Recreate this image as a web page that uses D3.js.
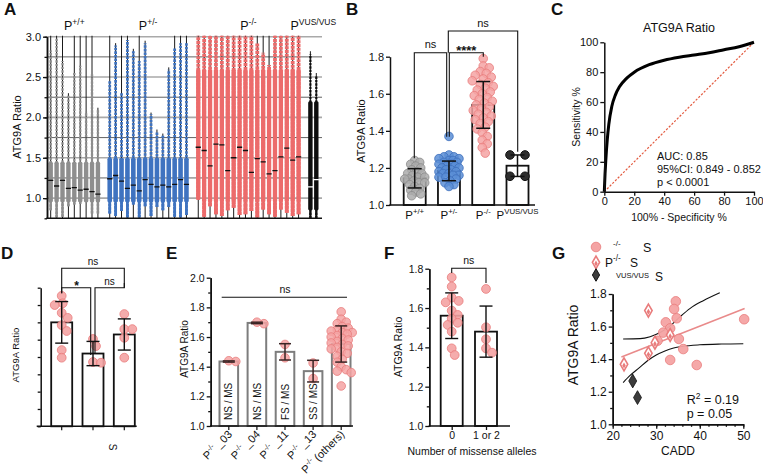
<!DOCTYPE html>
<html>
<head>
<meta charset="utf-8">
<script src="https://cdn.jsdelivr.net/npm/d3@7/dist/d3.min.js"></script>
<style>
  html,body{margin:0;padding:0;background:#fff;}
  svg{display:block;}
  text{font-family:"Liberation Sans", Arial, Helvetica, sans-serif; fill:#111;}
</style>
</head>
<body>
<svg id="fig" width="763" height="475"></svg>
<script>
// ======================= DATA =======================
// ---- Panel A : per-individual distributions ----
const aTicks = [1.0, 1.5, 2.0, 2.5, 3.0];
const aGrayMed   = [1.22, 1.15, 1.22, 1.12, 1.13, 1.10, 1.11, 1.08, 1.05];
const aGrayMax   = [2.83, 2.98, 2.70, 2.28, 2.55, 2.64, 2.07, 2.54, 2.10];
const aGrayMin   = [0.85, 0.76, 0.77, 0.90, 0.92, 0.93, 0.95, 0.81, 0.81];
const aGrayWhisk = [3.1, 3.1, 3.1, 2.30, 3.1, 3.1, 3.1, 3.1, 2.12];
const aGrayCore  = [0.95, 1.45];

const aBlueMed   = [1.24, 1.28, 1.21, 1.12, 1.16, 1.09, 1.23, 1.17, 1.14, 1.16, 1.14, 1.17, 1.23, 1.17];
const aBlueMax   = [2.45, 2.89, 2.30, 2.96, 2.82, 2.70, 2.92, 2.04, 1.82, 1.78, 2.59, 2.86, 2.92, 2.92];
const aBlueMin   = [0.81, 0.78, 0.84, 0.76, 0.92, 0.76, 0.90, 0.78, 0.89, 0.85, 0.89, 0.77, 0.76, 0.79];
const aBlueWhisk = [3.1, 2.92, 3.1, 3.1, 2.85, 3.1, 2.95, 2.06, 1.85, 1.80, 2.62, 3.1, 3.1, 3.1];
const aBlueCore  = [0.95, 1.5];

const aRedMed   = [1.63, 1.59, 1.40, 1.67, 1.66, 1.34, 1.50, 1.63, 1.59, 1.32, 1.49, 1.45, 1.30, 1.34, 1.51, 1.62, 1.47, 1.51];
const aRedMax   = [3.1, 3.1, 3.1, 3.1, 3.1, 3.1, 3.1, 3.1, 3.1, 3.1, 2.92, 2.80, 2.65, 3.1, 3.1, 3.1, 3.1, 3.1];
const aRedMin   = [0.98, 0.77, 0.90, 0.80, 0.78, 0.85, 0.88, 0.79, 0.80, 0.84, 0.76, 0.86, 0.80, 0.77, 0.86, 0.82, 0.78, 0.80];
const aRedWhisk = [3.1, 3.1, 3.1, 3.1, 3.1, 3.1, 3.1, 3.1, 3.1, 3.1, 3.1, 3.1, 3.1, 3.1, 3.1, 3.1, 3.1, 3.1];
const aRedCore  = [0.95, 2.6];

const aVusMed   = [1.14, 1.23];
const aVusMax   = [2.78, 2.51];
const aVusMin   = [0.75, 0.75];
const aVusWhisk = [2.82, 2.55];
const aVusCore  = [0.85, 2.2];

// ---- Panel B ----
const bCats  = ["+/+", "+/-", "-/-", "VUS/VUS"];
const bMeans = [1.144, 1.184, 1.540, 1.212];
const bSDs   = [0.052, 0.053, 0.126, 0.058];
const bWT  = [1.24,1.23,1.22,1.21,1.20,1.19,1.18,1.17,1.17,1.16,1.15,1.15,1.14,1.14,1.13,1.12,1.12,1.11,1.10,1.09,1.08,1.07,1.06,1.05];
const bHet = [1.37,1.27,1.26,1.26,1.25,1.25,1.24,1.24,1.23,1.23,1.22,1.22,1.21,1.21,1.20,1.20,1.19,1.19,1.18,1.18,1.17,1.17,1.16,1.16,1.15,1.15,1.14,1.13,1.12,1.11,1.10];
const bHom = [1.79,1.75,1.74,1.72,1.71,1.70,1.69,1.68,1.67,1.66,1.65,1.64,1.63,1.62,1.61,1.60,1.59,1.58,1.57,1.56,1.55,1.54,1.53,1.52,1.51,1.50,1.49,1.48,1.47,1.46,1.45,1.44,1.42,1.41,1.39,1.37,1.35,1.33,1.31,1.28];
const bVus = [1.27, 1.27, 1.155, 1.155];

// ---- Panel C : ROC ----
const cFPR = [0, 0.5, 1, 2, 3, 5, 7.5, 10, 15, 20, 30, 40, 50, 60, 70, 80, 90, 100];
const cTPR = [0, 12, 21, 35, 45, 57, 65, 70, 76, 80, 85, 88, 90, 91.5, 93, 95, 97, 100];
const cTicks = [0, 20, 40, 60, 80, 100];
const cStats = ["AUC: 0.85", "95%CI: 0.849 - 0.852", "p < 0.0001"];

// ---- Panel D ----
const dMeans = [1.60, 1.42, 1.53];
const dSDs   = [0.12, 0.07, 0.09];
const dPts   = [[1.753,1.71,1.70,1.655,1.626,1.584,1.55,1.44,1.396],[1.504,1.463,1.371,1.367],[1.648,1.561,1.561,1.511,1.396]];

// ---- Panel E ----
const eCats   = [" _03", " _04", " _11", " _13", " (others)"];
const eInner  = ["NS / MS", "NS / MS", "FS / MS", "SS / MS", ""];
const eMeans  = [1.435, 1.695, 1.50, 1.37, 1.553];
const eSDs    = [0.004, 0.005, 0.055, 0.073, 0.122];
const ePts    = [[1.44,1.435],[1.69,1.70],[1.55,1.46],[1.425,1.32],
  [1.77,1.72,1.70,1.69,1.67,1.66,1.65,1.64,1.63,1.63,1.62,1.61,1.60,1.59,1.58,1.57,1.56,1.55,1.54,1.53,1.52,1.50,1.49,1.47,1.45,1.43,1.40,1.38,1.37,1.36,1.27]];

// ---- Panel F ----
const fCats  = ["0", "1 or 2"];
const fMeans = [1.561, 1.48];
const fSDs   = [0.116, 0.13];
const fPts   = [[1.756,1.709,1.653,1.636,1.629,1.587,1.565,1.546,1.525,1.514,1.48,1.395,1.361],[1.697,1.502,1.441,1.395,1.373]];

// ---- Panel G ----
const gCircX = [34.5, 34.1, 34.7, 32.2, 33.2, 31.6, 35.2, 30.3, 36.2, 33.2, 39.3, 50.2];
const gCircY = [1.755, 1.708, 1.651, 1.626, 1.589, 1.563, 1.524, 1.513, 1.462, 1.395, 1.364, 1.645];
const gDiamX = [22.6, 28.2, 28.2, 29.7, 33.2];
const gDiamY = [1.368, 1.436, 1.698, 1.501, 1.548];
const gVusX  = [24.6, 25.7];
const gVusY  = [1.266, 1.164];
const gRegX  = [22.0, 50.3];
const gRegY  = [1.413, 1.711];
const gUpX   = [22.4, 26.3, 28.6, 30.9, 33.2, 35.5, 37.8, 40.8, 44.6];
const gUpY   = [1.524, 1.526, 1.538, 1.563, 1.604, 1.661, 1.712, 1.759, 1.808];
const gLoX   = [22.4, 24.0, 26.0, 28.0, 30.0, 32.0, 34.0, 36.0, 40.0, 45.0, 50.0];
const gLoY   = [1.256, 1.30, 1.345, 1.39, 1.425, 1.45, 1.468, 1.478, 1.488, 1.493, 1.495];

// ======================= HELPERS =======================
const svg = d3.select("#fig");
const PINK_F = "#f4a3a3", PINK_S = "#e97c7c";

function styleAxis(g, fs){
  g.select(".domain").attr("stroke","#111").attr("stroke-width",1.5);
  g.selectAll(".tick line").attr("stroke","#111").attr("stroke-width",1.3);
  g.selectAll(".tick text").attr("font-size",fs).attr("fill","#111")
    .style("font-family",'"Liberation Sans", Arial, sans-serif');
  return g;
}
function yAxis(x, y, major, minor, fs, fmt, tick){
  if(minor && minor.length){
    styleAxis(svg.append("g").attr("transform",`translate(${x},0)`)
      .call(d3.axisLeft(y).tickValues(minor).tickSize(2.5).tickSizeOuter(0).tickFormat("")), fs);
  }
  styleAxis(svg.append("g").attr("transform",`translate(${x},0)`)
    .call(d3.axisLeft(y).tickValues(major).tickSize(tick||4).tickSizeOuter(0).tickPadding(2).tickFormat(fmt)), fs);
}
function yLabel(x, y, t, fs){
  svg.append("text").attr("transform",`translate(${x},${y}) rotate(-90)`)
    .attr("text-anchor","middle").attr("font-size",fs).text(t);
}
function letter(t, x, y){
  svg.append("text").attr("x",x).attr("y",y).attr("font-size",17).attr("font-weight","bold").text(t);
}
function supText(g, x, y, parts, fs, anchor, transform){
  const t = g.append("text").attr("font-size",fs).attr("text-anchor",anchor||"start");
  if(transform) t.attr("transform",transform); else t.attr("x",x).attr("y",y);
  let shift = 0;
  parts.forEach(([s,sup])=>{
    const target = sup ? -fs*0.42 : 0;
    t.append("tspan").attr("dy",target-shift).attr("font-size", sup?fs*0.68:fs).text(s);
    shift = target;
  });
  return t;
}
function swarm(vals, yS, minDist, maxOff){
  const idx = d3.range(vals.length).sort((a,b)=>d3.descending(vals[a],vals[b]));
  const placed = [], off = new Array(vals.length).fill(0);
  idx.forEach(i=>{
    const py = yS(vals[i]);
    let best = 0, bestD = -1;
    for(let k=0;k<=2*maxOff;k++){
      const o = k===0 ? 0 : (k%2 ? Math.ceil(k/2) : -Math.ceil(k/2));
      let md = Infinity;
      placed.forEach(p=>{ const d = Math.hypot(p[0]-o, p[1]-py); if(d<md) md=d; });
      if(md>=minDist){ best=o; bestD=md; break; }
      if(md>bestD){ bestD=md; best=o; }
    }
    off[i]=best; placed.push([best,py]);
  });
  return off;
}
function errBar(g, cx, y, m, sd, capW, color, sw){
  const c = color||"#111";
  g.append("line").attr("x1",cx).attr("x2",cx).attr("y1",y(m-sd)).attr("y2",y(m+sd)).attr("stroke",c).attr("stroke-width",sw||1.5);
  [m-sd, m+sd].forEach(v=>g.append("line").attr("x1",cx-capW/2).attr("x2",cx+capW/2).attr("y1",y(v)).attr("y2",y(v)).attr("stroke",c).attr("stroke-width",sw||1.5));
}
function bracket(g, x1, x2, yTop, y1end, y2end){
  g.append("path").attr("d",`M${x1},${y1end}V${yTop}H${x2}V${y2end}`)
    .attr("fill","none").attr("stroke","#111").attr("stroke-width",1.1);
}
function points(g, cx, vals, y, r, minDist, maxOff, fill, stroke, op){
  const off = swarm(vals, y, minDist, maxOff);
  g.selectAll(null).data(vals).enter().append("circle")
    .attr("cx",(d,i)=>cx+off[i]).attr("cy",d=>y(d)).attr("r",r)
    .attr("fill",fill).attr("fill-opacity",op==null?0.85:op).attr("stroke",stroke).attr("stroke-width",0.8);
}

// ======================= PANEL A =======================
letter("A", 4, 15);
const ay = d3.scaleLinear().domain([0.75, 3.0]).range([218.3, 36.7]);
const aSlot = d3.scalePoint().domain(d3.range(46)).range([50.7, 316.3]);
const aL = 47, aR = 322;
const gA = svg.append("g");
d3.range(1.0, 3.01, 0.25).forEach(v=>{
  const major = Math.abs(v*2 - Math.round(v*2)) < 1e-6;
  gA.append("line").attr("x1",aL).attr("x2",aR).attr("y1",ay(v)).attr("y2",ay(v))
    .attr("stroke", major ? "#a9a9a9" : "#3a3a3a").attr("stroke-width", major ? 1.6 : 0.8);
});
svg.append("clipPath").attr("id","clipA").append("rect").attr("x",aL).attr("y",ay(3.0)-1).attr("width",aR-aL).attr("height",ay(0.75)-ay(3.0)+1);
const gCols = svg.append("g").attr("clip-path","url(#clipA)");
const aGroups = [
  {start:0,  med:aGrayMed, max:aGrayMax, min:aGrayMin, wh:aGrayWhisk, core:aGrayCore, col:"#8e8e8e", sw:2.4, cw:4.4, mc:"#111", dash:"2.4,1.2"},
  {start:10, med:aBlueMed, max:aBlueMax, min:aBlueMin, wh:aBlueWhisk, core:aBlueCore, col:"#3f73c0", sw:2.8, cw:4.6, mc:"#111", dash:"2.6,1.0"},
  {start:25, med:aRedMed,  max:aRedMax,  min:aRedMin,  wh:aRedWhisk,  core:aRedCore,  col:"#ec6b6b", sw:3.8, cw:4.3, mc:"#111", dash:"3,0.8"},
  {start:44, med:aVusMed,  max:aVusMax,  min:aVusMin,  wh:aVusWhisk,  core:aVusCore,  col:"#0d0d0d", sw:2.2, cw:4.4, mc:"#fff", dash:"2.4,1.0"}
];
aGroups.forEach(G=>{
  G.med.forEach((m,i)=>{
    const x = aSlot(G.start+i);
    gCols.append("line").attr("x1",x).attr("x2",x).attr("y1",ay(0.75)).attr("y2",ay(G.wh[i]))
      .attr("stroke","#1a1a1a").attr("stroke-width",1);
    gCols.append("line").attr("x1",x).attr("x2",x).attr("y1",ay(G.min[i])).attr("y2",ay(G.max[i]))
      .attr("stroke",G.col).attr("stroke-width",G.sw).attr("stroke-dasharray",G.dash);
    const lo = Math.max(G.core[0], G.min[i]), hi = Math.min(G.core[1], G.max[i]);
    gCols.append("rect").attr("x",x-G.cw/2).attr("width",G.cw).attr("y",ay(hi)).attr("height",ay(lo)-ay(hi))
      .attr("rx",1.5).attr("fill",G.col);
    gCols.append("line").attr("x1",x).attr("x2",x).attr("y1",ay(G.min[i])).attr("y2",ay(lo))
      .attr("stroke",G.col).attr("stroke-width",G.sw);
    gCols.append("line").attr("x1",x-2.6).attr("x2",x+2.6).attr("y1",ay(m)).attr("y2",ay(m))
      .attr("stroke",G.mc).attr("stroke-width",1.3);
  });
});
yAxis(aL, ay, aTicks, d3.range(0.75,3.01,0.25), 11, d3.format(".1f"), 4);
svg.append("line").attr("x1",aL-0.7).attr("x2",aR).attr("y1",ay(0.75)).attr("y2",ay(0.75)).attr("stroke","#111").attr("stroke-width",1.5);
yLabel(21, 127, "ATG9A Ratio", 11);
[[0,8],[10,23],[25,42],[44,45]].forEach((r,k)=>{
  const cx = (aSlot(r[0])+aSlot(r[1]))/2;
  const lab = [["P","+/+"],["P","+/-"],["P","-/-"],["P","VUS/VUS"]][k];
  supText(svg, cx, 30, [[lab[0],false],[lab[1],true]], 12.5, "middle");
});

// ======================= PANEL B =======================
letter("B", 346, 15);
const by = d3.scaleLinear().domain([1.0, 1.8]).range([205, 56.7]);
const bx = d3.scalePoint().domain(bCats).range([414.7, 517.5]);
const gB = svg.append("g");
const bPts = [bWT, bHet, bHom, bVus];
const bFill = ["#ababab", "#5b8ed6", PINK_F, "#2e2e2e"];
const bStroke = ["#8a8a8a", "#3d6fbb", PINK_S, "#111"];
bCats.forEach((c,i)=>{
  const cx = bx(c);
  gB.append("rect").attr("x",cx-11).attr("width",22).attr("y",by(bMeans[i])).attr("height",by(1.0)-by(bMeans[i]))
    .attr("fill","#fff").attr("stroke","#111").attr("stroke-width",1.8);
});
bCats.forEach((c,i)=>{
  const cx = bx(c);
  if(i===3){
    const off = [-7.5, 7.5, -7.5, 7.5];
    bVus.forEach((v,j)=>gB.append("circle").attr("cx",cx+off[j]).attr("cy",by(v)).attr("r",4.3).attr("fill",bFill[3]).attr("stroke",bStroke[3]));
  } else {
    points(gB, cx, bPts[i], by, 4.3, i===2?6.2:5.2, i===2?12:10, bFill[i], bStroke[i], 0.85);
  }
  errBar(gB, cx, by, bMeans[i], bSDs[i], 14, "#111", 1.5);
});
yAxis(390, by, [1.0,1.2,1.4,1.6,1.8], [], 11, d3.format(".1f"), 4);
svg.append("line").attr("x1",389.3).attr("x2",535).attr("y1",by(1.0)).attr("y2",by(1.0)).attr("stroke","#111").attr("stroke-width",1.5);
yLabel(365, 131, "ATG9A Ratio", 11);
bCats.forEach(c=>supText(svg, bx(c), 219, [["P",false],[c,true]], 11.5, "middle"));
bracket(gB, 414.3, 446.7, 52.7, 158.3, 136.7);
bracket(gB, 449.3, 483.3, 52.7, 136.7, 56.7);
bracket(gB, 448.3, 517.7, 31, 52.7, 151.7);
gB.append("text").attr("x",430.5).attr("y",48).attr("text-anchor","middle").attr("font-size",11).text("ns");
gB.append("text").attr("x",466.3).attr("y",55).attr("text-anchor","middle").attr("font-size",13).attr("font-weight","bold").text("****");
gB.append("text").attr("x",483).attr("y",27).attr("text-anchor","middle").attr("font-size",11).text("ns");

// ======================= PANEL C =======================
letter("C", 551, 15);
const cx = d3.scaleLinear().domain([0,100]).range([604.3, 754]);
const cy = d3.scaleLinear().domain([0,100]).range([191.7, 42.3]);
const gC = svg.append("g");
gC.append("line").attr("x1",cx(0)).attr("y1",cy(0)).attr("x2",cx(100)).attr("y2",cy(100))
  .attr("stroke","#e35a3f").attr("stroke-width",1.2).attr("stroke-dasharray","2.2,1.6");
gC.append("path").datum(d3.zip(cFPR, cTPR))
  .attr("d", d3.line().x(d=>cx(d[0])).y(d=>cy(d[1])).curve(d3.curveMonotoneX))
  .attr("fill","none").attr("stroke","#000").attr("stroke-width",3);
yAxis(cx(0), cy, cTicks, [], 11, d3.format("d"), 4);
styleAxis(svg.append("g").attr("transform",`translate(0,${cy(0)})`)
  .call(d3.axisBottom(cx).tickValues(cTicks).tickSize(4).tickSizeOuter(0).tickPadding(2).tickFormat(d3.format("d"))), 11);
svg.append("text").attr("x",679).attr("y",32).attr("text-anchor","middle").attr("font-size",12.5).text("ATG9A Ratio");
svg.append("text").attr("x",679).attr("y",221).attr("text-anchor","middle").attr("font-size",10.5).text("100% - Specificity %");
yLabel(580, 117, "Sensitivity %", 10.5);
cStats.forEach((s,i)=>svg.append("text").attr("x",657).attr("y",160+i*13).attr("font-size",11).text(s));

// ======================= PANEL D =======================
letter("D", 1, 259);
const dy = d3.scaleLinear().domain([1.0, 1.8]).range([426.3, 287.7]);
const dx = d3.scalePoint().domain([0,1,2]).range([61.7, 124.3]);
const gD = svg.append("g");
dMeans.forEach((m,i)=>{
  gD.append("rect").attr("x",dx(i)-10.5).attr("width",21).attr("y",dy(m)).attr("height",dy(1.0)-dy(m))
    .attr("fill","#fff").attr("stroke","#111").attr("stroke-width",1.8);
});
dMeans.forEach((m,i)=>{
  points(gD, dx(i), dPts[i], dy, 4.4, 7.5, 8, PINK_F, PINK_S, 0.9);
  errBar(gD, dx(i), dy, m, dSDs[i], 13, "#111", 1.4);
});
yAxis(40.7, dy, d3.range(1.0,1.801,0.1), [], 10, ()=>"", 3);
svg.append("line").attr("x1",36.7).attr("x2",136.7).attr("y1",dy(1.0)).attr("y2",dy(1.0)).attr("stroke","#111").attr("stroke-width",1.5);
[0,1,2].forEach(i=>svg.append("line").attr("x1",dx(i)).attr("x2",dx(i)).attr("y1",dy(1.0)).attr("y2",dy(1.0)+4).attr("stroke","#111").attr("stroke-width",1.2));
yLabel(19, 355, "ATG9A Ratio", 9.5);
svg.append("text").attr("transform","translate(109,447) rotate(90)").attr("font-size",10).attr("text-anchor","middle").text("S");
bracket(gD, 61.7, 124.3, 268.3, 293.3, 287.7);
bracket(gD, 61.7, 90.7, 287.7, 293.3, 355);
bracket(gD, 95, 124.3, 287.7, 353, 283);
gD.append("text").attr("x",93).attr("y",265).attr("text-anchor","middle").attr("font-size",10).text("ns");
gD.append("text").attr("x",76.5).attr("y",290).attr("text-anchor","middle").attr("font-size",12).attr("font-weight","bold").text("*");
gD.append("text").attr("x",109.5).attr("y",284.5).attr("text-anchor","middle").attr("font-size",10).text("ns");

// ======================= PANEL E =======================
letter("E", 166, 259);
const ey = d3.scaleLinear().domain([1.0, 2.0]).range([426, 277.7]);
const ex = d3.scalePoint().domain(d3.range(eCats.length)).range([228.8, 341.2]);
const gE = svg.append("g");
eMeans.forEach((m,i)=>{
  gE.append("rect").attr("x",ex(i)-9.3).attr("width",18.6).attr("y",ey(m)).attr("height",ey(1.0)-ey(m))
    .attr("fill","#fff").attr("stroke","#7d7d7d").attr("stroke-width",2);
});
eMeans.forEach((m,i)=>{
  points(gE, ex(i), ePts[i], ey, 4.3, i===4?5.6:7.2, i===4?11:7, PINK_F, PINK_S, 0.85);
  errBar(gE, ex(i), ey, m, eSDs[i], 12, "#3a2424", 1.5);
  if(eInner[i]) gE.append("text").attr("transform",`translate(${ex(i)+3.6},420) rotate(-90)`)
    .attr("font-size",10).text(eInner[i]);
});
yAxis(210.7, ey, d3.range(1.0,2.01,0.2), d3.range(1.1,2.0,0.2), 10.5, d3.format(".1f"), 4);
svg.append("line").attr("x1",210).attr("x2",353).attr("y1",ey(1.0)).attr("y2",ey(1.0)).attr("stroke","#111").attr("stroke-width",1.5);
eCats.forEach((c,i)=>{
  svg.append("line").attr("x1",ex(i)).attr("x2",ex(i)).attr("y1",ey(1.0)).attr("y2",ey(1.0)+4).attr("stroke","#111").attr("stroke-width",1.2);
  supText(svg, 0, 0, [["P",false],["-/-",true],[c,false]], 11, "end", `translate(${ex(i)+4},${ey(1.0)+9}) rotate(-45)`);
});
yLabel(188, 349, "ATG9A Ratio", 10);
gE.append("line").attr("x1",221.7).attr("x2",347).attr("y1",297.3).attr("y2",297.3).attr("stroke","#111").attr("stroke-width",1.1);
gE.append("text").attr("x",285).attr("y",293).attr("text-anchor","middle").attr("font-size",10.5).text("ns");

// ======================= PANEL F =======================
letter("F", 384, 259);
const fy = d3.scaleLinear().domain([1.0, 1.8]).range([426, 268.7]);
const fx = d3.scalePoint().domain(fCats).range([451.7, 486]);
const gF = svg.append("g");
fCats.forEach((c,i)=>{
  gF.append("rect").attr("x",fx(c)-11).attr("width",22).attr("y",fy(fMeans[i])).attr("height",fy(1.0)-fy(fMeans[i]))
    .attr("fill","#fff").attr("stroke","#111").attr("stroke-width",1.8);
});
fCats.forEach((c,i)=>{
  points(gF, fx(c), fPts[i], fy, 4.4, 7.0, 8, PINK_F, PINK_S, 0.9);
  errBar(gF, fx(c), fy, fMeans[i], fSDs[i], 13, "#111", 1.4);
});
yAxis(429.3, fy, d3.range(1.0,1.801,0.2), d3.range(1.1,1.8,0.2), 10.5, d3.format(".1f"), 4);
const fxAxis = styleAxis(svg.append("g").attr("transform",`translate(0,${fy(1.0)})`)
  .call(d3.axisBottom(fx).tickSize(4).tickSizeOuter(0).tickPadding(2)), 10.5);
fxAxis.select(".domain").attr("d", "M428.6,0H510");
yLabel(402, 347, "ATG9A Ratio", 10.5);
svg.append("text").attr("x",472).attr("y",455).attr("text-anchor","middle").attr("font-size",10.5).text("Number of missense alleles");
bracket(gF, 451.7, 486, 268.3, 273, 283);
gF.append("text").attr("x",468.8).attr("y",264).attr("text-anchor","middle").attr("font-size",10.5).text("ns");

// ======================= PANEL G =======================
letter("G", 552, 259);
const gx = d3.scaleLinear().domain([20, 50]).range([612.7, 743.3]);
const gy = d3.scaleLinear().domain([1.0, 1.8]).range([424.3, 294]);
const gG = svg.append("g");
const lineG = d3.line().x(d=>gx(d[0])).y(d=>gy(d[1])).curve(d3.curveMonotoneX);
gG.append("path").datum(d3.zip(gUpX,gUpY)).attr("d",lineG).attr("fill","none").attr("stroke","#111").attr("stroke-width",1.1);
gG.append("path").datum(d3.zip(gLoX,gLoY)).attr("d",lineG).attr("fill","none").attr("stroke","#111").attr("stroke-width",1.1);
gG.append("path").datum(d3.zip(gRegX,gRegY)).attr("d",lineG).attr("fill","none").attr("stroke","#e98a8a").attr("stroke-width",1.5);
const diamond = d3.symbol().type(d3.symbolDiamond);
function halfDiamond(g, x, y, s){
  g.append("path").attr("transform",`translate(${x},${y})`).attr("d",diamond.size(s)()).attr("fill","#fff").attr("stroke",PINK_S).attr("stroke-width",1.6);
  g.append("path").attr("transform",`translate(${x},${y+1.2})`).attr("d",diamond.size(s*0.22)()).attr("fill",PINK_S);
}
gCircX.forEach((x,i)=>gG.append("circle").attr("cx",gx(x)).attr("cy",gy(gCircY[i])).attr("r",4.8)
  .attr("fill",PINK_F).attr("fill-opacity",0.95).attr("stroke",PINK_S).attr("stroke-width",0.8));
gDiamX.forEach((x,i)=>halfDiamond(gG, gx(x), gy(gDiamY[i]), 48));
gVusX.forEach((x,i)=>gG.append("path").attr("transform",`translate(${gx(x)},${gy(gVusY[i])})`)
  .attr("d",diamond.size(55)()).attr("fill","#3c3c3c").attr("stroke","#111").attr("stroke-width",0.8));
yAxis(612.7, gy, d3.range(1.0,1.801,0.2), d3.range(1.1,1.8,0.2), 12, d3.format(".1f"), 4);
styleAxis(svg.append("g").attr("transform",`translate(0,${gy(1.0)})`)
  .call(d3.axisBottom(gx).tickValues(d3.range(20,51,2)).tickSize(2.5).tickSizeOuter(0).tickFormat("")), 12);
styleAxis(svg.append("g").attr("transform",`translate(0,${gy(1.0)})`)
  .call(d3.axisBottom(gx).tickValues([20,30,40,50]).tickSize(4.5).tickSizeOuter(0).tickPadding(3).tickFormat(d3.format("d"))), 12);
yLabel(578, 345, "ATG9A Ratio", 14);
svg.append("text").attr("x",678).attr("y",455).attr("text-anchor","middle").attr("font-size",12).text("CADD");
supText(svg, 686.7, 404, [["R",false],["2",true],[" = 0.19",false]], 12.5, "start");
svg.append("text").attr("x",686.7).attr("y",418).attr("font-size",12.5).text("p = 0.05");
// legend
svg.append("circle").attr("cx",596).attr("cy",247).attr("r",4.8).attr("fill",PINK_F).attr("stroke",PINK_S).attr("stroke-width",0.8);
halfDiamond(svg, 596, 262.3, 45);
svg.append("path").attr("transform","translate(596,275)").attr("d",diamond.size(45)()).attr("fill","#3c3c3c").attr("stroke","#111");
svg.append("text").attr("x",613).attr("y",246).attr("font-size",8).text("-/-");
svg.append("text").attr("x",643).attr("y",251.5).attr("font-size",12.5).text("S");
supText(svg, 605, 266.5, [["P",false],["-/-",true]], 12, "start");
svg.append("text").attr("x",630).attr("y",266.5).attr("font-size",12).text("S");
svg.append("text").attr("x",616).attr("y",278).attr("font-size",7.5).text("VUS/VUS");
svg.append("text").attr("x",655).attr("y",281).attr("font-size",12).text("S");
</script>
</body>
</html>
